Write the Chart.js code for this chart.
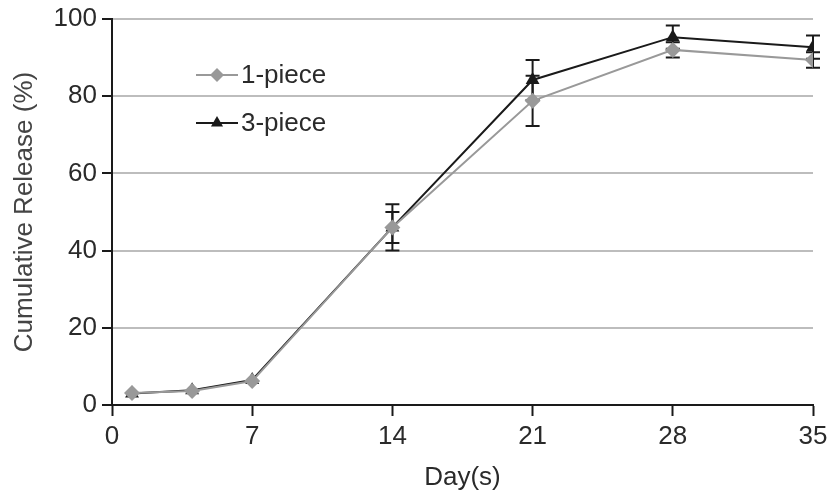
<!DOCTYPE html>
<html>
<head>
<meta charset="utf-8">
<script src="https://cdn.jsdelivr.net/npm/chart.js@4"></script>
<style>
  body { margin: 0; background: #fff; }
  #wrap { width: 830px; height: 495px; }
</style>
</head>
<body>
<div id="wrap"><canvas id="myChart" width="830" height="495"></canvas></div>
<script>
var ctx = document.getElementById('myChart');

var days = [1, 4, 7, 14, 21, 28, 35];
var onePiece = [3.1, 3.6, 6.2, 46, 78.8, 92, 89.4];
var onePieceErr = [0.5, 0.5, 0.5, 4, 6.5, 2, 2];
var threePiece = [3.0, 3.8, 6.5, 46, 84.2, 95.3, 92.7];
var threePieceErr = [0.5, 0.5, 0.5, 6, 5.2, 3, 3];
var xTicks = [0, 7, 14, 21, 28, 35];
var yTicks = [0, 20, 40, 60, 80, 100];

var font = "'Liberation Sans', Arial, sans-serif";

function toPoints(xs, ys, errs) {
  return xs.map(function (x, i) { return { x: x, y: ys[i], err: errs[i] }; });
}

// error bars drawn through the scales
var errorBars = {
  id: 'errorBars',
  beforeDatasetsDraw: function (chart) {
    var c = chart.ctx, xs = chart.scales.x, ys = chart.scales.y;
    c.save();
    c.strokeStyle = '#1a1a1a';
    c.lineWidth = 2;
    chart.data.datasets.forEach(function (ds) {
      ds.data.forEach(function (p) {
        if (!p.err || p.err < 1) return;
        var px = xs.getPixelForValue(p.x);
        var top = ys.getPixelForValue(p.y + p.err);
        var bot = ys.getPixelForValue(p.y - p.err);
        c.beginPath();
        c.moveTo(px, top); c.lineTo(px, bot);
        c.moveTo(px - 7, top); c.lineTo(px + 7, top);
        c.moveTo(px - 7, bot); c.lineTo(px + 7, bot);
        c.stroke();
      });
    });
    c.restore();
  }
};

// legend inside the plot
var innerLegend = {
  id: 'innerLegend',
  afterDraw: function (chart) {
    var c = chart.ctx;
    var rows = [
      { label: '1-piece', color: '#999999', style: 'rectRot', y: 75 },
      { label: '3-piece', color: '#1a1a1a', style: 'triangle', y: 123 }
    ];
    c.save();
    rows.forEach(function (r) {
      c.strokeStyle = r.color;
      c.lineWidth = 2;
      c.beginPath();
      c.moveTo(196, r.y); c.lineTo(238, r.y);
      c.stroke();
      c.fillStyle = r.color;
      Chart.helpers.drawPoint(c, { pointStyle: r.style, radius: 7, borderWidth: 0 }, 217, r.y);
      c.fillStyle = '#2a2a2a';
      c.font = '26px ' + font;
      c.textBaseline = 'middle';
      c.fillText(r.label, 241, r.y + 1);
    });
    c.restore();
  }
};

var myChart = new Chart(ctx, {
  type: 'line',
  data: {
    datasets: [{
      label: '1-piece',
      data: toPoints(days, onePiece, onePieceErr),
      borderColor: '#999999',
      backgroundColor: '#999999',
      borderWidth: 2,
      pointStyle: 'rectRot',
      pointRadius: 8,
      pointBorderWidth: 0,
      tension: 0
    }, {
      label: '3-piece',
      data: toPoints(days, threePiece, threePieceErr),
      borderColor: '#1a1a1a',
      backgroundColor: '#1a1a1a',
      borderWidth: 2,
      pointStyle: 'triangle',
      pointRadius: 8,
      pointBorderWidth: 0,
      tension: 0
    }]
  },
  options: {
    responsive: false,
    animation: false,
    layout: { padding: { left: 0, right: 17, top: 19, bottom: 0 } },
    plugins: {
      legend: { display: false },
      tooltip: { enabled: false }
    },
    scales: {
      x: {
        type: 'linear',
        min: 0,
        max: 35,
        afterBuildTicks: function (s) { s.ticks = xTicks.map(function (v) { return { value: v }; }); },
        afterFit: function (s) { s.height = 90; s.paddingLeft = 0; s.paddingRight = 0; },
        grid: { drawOnChartArea: false, tickLength: 11, tickColor: '#1a1a1a', tickWidth: 2 },
        border: { color: '#1a1a1a', width: 2 },
        ticks: { color: '#2a2a2a', font: { family: font, size: 26 }, padding: 5 },
        title: { display: true, text: 'Day(s)', color: '#2a2a2a', font: { family: font, size: 26 }, padding: { top: 0, bottom: 2 } }
      },
      y: {
        min: 0,
        max: 100,
        afterBuildTicks: function (s) { s.ticks = yTicks.map(function (v) { return { value: v }; }); },
        afterFit: function (s) { s.width = 112; s.paddingTop = 0; s.paddingBottom = 0; },
        grid: { color: '#bdbdbd', lineWidth: 2, tickLength: 10, tickColor: '#1a1a1a', tickWidth: 2 },
        border: { color: '#1a1a1a', width: 2 },
        ticks: { color: '#2a2a2a', font: { family: font, size: 26 }, padding: 5 },
        title: { display: true, text: 'Cumulative Release (%)', color: '#444', font: { family: font, size: 26 }, padding: { top: 9, bottom: 0 } }
      }
    }
  },
  plugins: [errorBars, innerLegend]
});
</script>
</body>
</html>
